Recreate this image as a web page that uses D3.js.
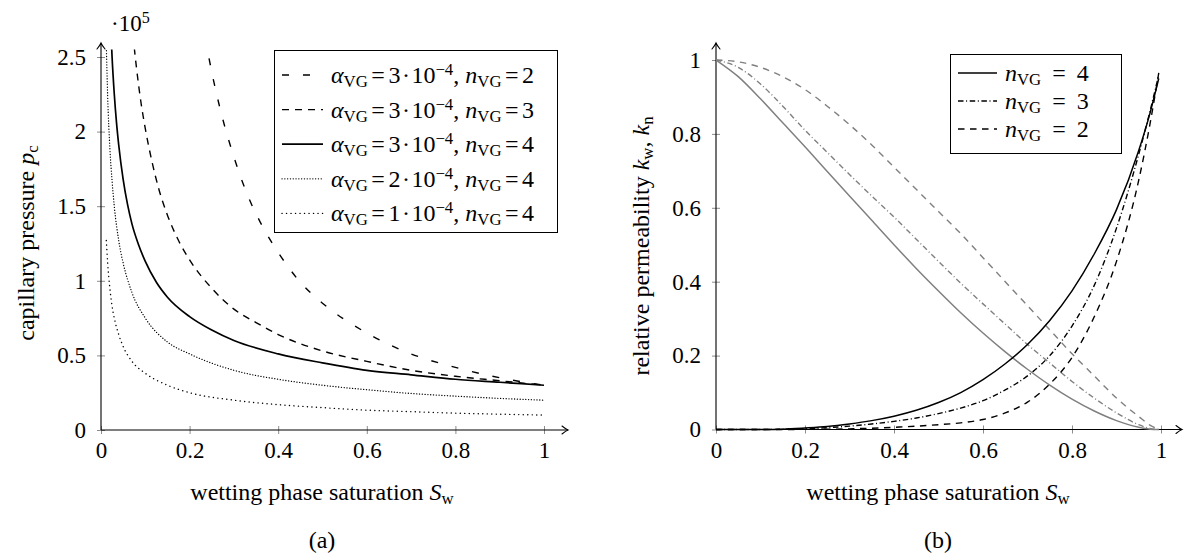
<!DOCTYPE html>
<html><head><meta charset="utf-8">
<script src="https://cdn.jsdelivr.net/npm/d3@7"></script>
<style>body{margin:0;background:#fff}svg{display:block} text{font-family:"Liberation Serif","DejaVu Serif",serif;}</style>
</head><body>
<svg id="c" width="1186" height="557"></svg>
<script>
// ---------- data ----------
const xTicks = [0, 0.2, 0.4, 0.6, 0.8, 1];
const xTickLabels = ["0", "0.2", "0.4", "0.6", "0.8", "1"];
const pcTicks = [0, 0.5, 1, 1.5, 2, 2.5];
const pcTickLabels = ["0", "0.5", "1", "1.5", "2", "2.5"];
const krTicks = [0, 0.2, 0.4, 0.6, 0.8, 1];
const krTickLabels = ["0", "0.2", "0.4", "0.6", "0.8", "1"];

// left panel: capillary pressure pc [1e5] vs Sw
const swA3n2 = [0.235, 0.25, 0.27, 0.3, 0.33, 0.36, 0.4, 0.45, 0.5, 0.6, 0.7, 0.8, 0.9, 1.0];
const pcA3n2 = [2.63, 2.40, 2.14, 1.83, 1.58, 1.39, 1.19, 0.99, 0.85, 0.65, 0.51, 0.42, 0.35, 0.30];
const swA3n3 = [0.072, 0.08, 0.09, 0.1, 0.115, 0.13, 0.15, 0.175, 0.2, 0.25, 0.3, 0.35, 0.4, 0.5, 0.6, 0.7, 0.8, 0.9, 1.0];
const pcA3n3 = [2.65, 2.43, 2.20, 2.02, 1.80, 1.62, 1.44, 1.27, 1.14, 0.95, 0.81, 0.72, 0.64, 0.53, 0.46, 0.40, 0.36, 0.33, 0.30];
const swA3n4 = [0.023, 0.025, 0.03, 0.035, 0.04, 0.05, 0.06, 0.07, 0.085, 0.1, 0.125, 0.15, 0.2, 0.25, 0.3, 0.4, 0.5, 0.6, 0.7, 0.8, 0.9, 1.0];
const pcA3n4 = [2.63, 2.50, 2.25, 2.06, 1.91, 1.68, 1.51, 1.38, 1.24, 1.13, 0.99, 0.89, 0.76, 0.67, 0.60, 0.51, 0.45, 0.40, 0.37, 0.34, 0.32, 0.30];
const swLow = [0.012, 0.015, 0.02, 0.025, 0.03, 0.04, 0.05, 0.07, 0.1, 0.15, 0.2, 0.3, 0.4, 0.5, 0.6, 0.7, 0.8, 0.9, 1.0];
const pcA2n4 = [2.58, 2.24, 1.89, 1.67, 1.50, 1.27, 1.12, 0.92, 0.75, 0.59, 0.51, 0.40, 0.34, 0.30, 0.27, 0.245, 0.227, 0.212, 0.20];
const pcA1n4 = [1.27, 1.12, 0.95, 0.83, 0.75, 0.64, 0.56, 0.46, 0.38, 0.30, 0.25, 0.20, 0.17, 0.15, 0.133, 0.123, 0.113, 0.106, 0.10];

// right panel: relative permeability vs Sw
const swK = [0, 0.05, 0.1, 0.15, 0.2, 0.25, 0.3, 0.35, 0.4, 0.45, 0.5, 0.55, 0.6, 0.65, 0.7, 0.75, 0.8, 0.85, 0.9, 0.95, 0.975, 0.995];
const kwN4 = [0, 0, 0.0002, 0.001, 0.004, 0.008, 0.015, 0.024, 0.036, 0.052, 0.073, 0.10, 0.135, 0.178, 0.23, 0.295, 0.375, 0.475, 0.595, 0.755, 0.855, 0.95];
const kwN3 = [0, 0, 0.0001, 0.0007, 0.002, 0.005, 0.009, 0.015, 0.022, 0.031, 0.043, 0.058, 0.078, 0.107, 0.145, 0.20, 0.28, 0.39, 0.545, 0.745, 0.86, 0.96];
const kwN2 = [0, 0, 0, 0.0001, 0.0003, 0.0008, 0.0018, 0.0035, 0.006, 0.009, 0.013, 0.018, 0.027, 0.045, 0.074, 0.123, 0.195, 0.305, 0.455, 0.675, 0.825, 0.965];
const knN4 = [1, 0.955, 0.895, 0.83, 0.765, 0.698, 0.632, 0.566, 0.50, 0.436, 0.375, 0.316, 0.261, 0.21, 0.163, 0.12, 0.082, 0.05, 0.024, 0.006, 0.001, 0.0];
const knN3 = [1, 0.98, 0.935, 0.875, 0.81, 0.75, 0.69, 0.632, 0.575, 0.515, 0.455, 0.396, 0.34, 0.285, 0.23, 0.18, 0.13, 0.085, 0.045, 0.013, 0.003, 0.0];
const knN2 = [1, 0.995, 0.98, 0.955, 0.92, 0.875, 0.825, 0.77, 0.71, 0.65, 0.59, 0.53, 0.465, 0.40, 0.335, 0.27, 0.205, 0.145, 0.085, 0.035, 0.012, 0.0];

// ---------- drawing ----------
const FONT = '"Liberation Serif", "DejaVu Serif", serif';
const svg = d3.select("#c");
const GRAY = "#808080";
const TICKFS = 23;

const xL = d3.scaleLinear([0, 1], [101, 544]);
const yL = d3.scaleLinear([0, 2.5], [430, 57]);
const xR = d3.scaleLinear([0, 1], [716, 1161]);
const yR = d3.scaleLinear([0, 1], [429.5, 60]);

const defs = svg.append("defs");
defs.append("clipPath").attr("id", "clipL").append("rect")
  .attr("x", xL(0)).attr("y", yL(2.55)).attr("width", xL(1.02) - xL(0)).attr("height", yL(0) - yL(2.55) + 2);
defs.append("clipPath").attr("id", "clipR").append("rect")
  .attr("x", xR(0)).attr("y", yR(1.02)).attr("width", xR(1.02) - xR(0)).attr("height", yR(0) - yR(1.02) + 2);

function arrow(g, x, y, dir) {
  const p = "M-6,-4 Q-2,-0.8 0,0 Q-2,0.8 -6,4";
  g.append("path").attr("d", p).attr("fill", "none").attr("stroke", "#000").attr("stroke-width", 1.1)
    .attr("stroke-linecap", "round")
    .attr("transform", `translate(${x},${y}) rotate(${dir})`);
}

function drawAxes(x, y, xt, xtl, yt, ytl, xEnd, yEnd) {
  const g = svg.append("g");
  const ax = d3.axisBottom(x).tickValues(xt).tickFormat((d, i) => xtl[i]).tickSize(4).tickPadding(6);
  const gx = g.append("g").attr("transform", `translate(0,${y(0)})`).call(ax);
  gx.attr("font-family", FONT);
  gx.select(".domain").remove();
  gx.selectAll(".tick line").attr("y1", -4).attr("y2", 4).attr("stroke", GRAY).attr("stroke-width", 0.9);
  gx.selectAll(".tick text").attr("font-family", FONT).attr("font-size", TICKFS).attr("fill", "#000").attr("dy", "0.8em");
  const ay = d3.axisLeft(y).tickValues(yt).tickFormat((d, i) => ytl[i]).tickSize(4).tickPadding(11);
  const gy = g.append("g").attr("transform", `translate(${x(0)},0)`).call(ay);
  gy.attr("font-family", FONT);
  gy.select(".domain").remove();
  gy.selectAll(".tick line").attr("x1", -4).attr("x2", 4).attr("stroke", GRAY).attr("stroke-width", 0.9);
  gy.selectAll(".tick text").attr("font-family", FONT).attr("font-size", TICKFS).attr("fill", "#000");
  g.append("line").attr("x1", x(0)).attr("x2", xEnd).attr("y1", y(0)).attr("y2", y(0)).attr("stroke", "#000").attr("stroke-width", 1.1);
  g.append("line").attr("x1", x(0)).attr("x2", x(0)).attr("y1", y(0)).attr("y2", yEnd).attr("stroke", "#000").attr("stroke-width", 1.1);
  arrow(g, xEnd, y(0), 0);
  arrow(g, x(0), yEnd, -90);
}

drawAxes(xL, yL, xTicks, xTickLabels, pcTicks, pcTickLabels, 568, 43);
drawAxes(xR, yR, xTicks, xTickLabels, krTicks, krTickLabels, 1182, 43);

function curve(x, y, xs, ys, clip, style) {
  const line = d3.line().x((d) => x(d[0])).y((d) => y(d[1])).curve(d3.curveMonotoneX);
  svg.append("path").datum(xs.map((v, i) => [v, ys[i]]))
    .attr("clip-path", `url(#${clip})`)
    .attr("d", line).attr("fill", "none")
    .attr("stroke", style.color || "#000").attr("stroke-width", style.w || 1.4)
    .attr("stroke-dasharray", style.dash || null)
    .attr("stroke-linecap", style.cap || "butt");
}

const S = {
  loose: { dash: "7 14" },
  dashed: { dash: "7 6" },
  solid: { w: 1.7 },
  dense: { dash: "0.1 2.7", cap: "round", w: 1.3 },
  dotted: { dash: "0.1 4.4", cap: "round", w: 1.4 },
};
curve(xL, yL, swA3n2, pcA3n2, "clipL", S.loose);
curve(xL, yL, swA3n3, pcA3n3, "clipL", S.dashed);
curve(xL, yL, swA3n4, pcA3n4, "clipL", S.solid);
curve(xL, yL, swLow, pcA2n4, "clipL", S.dense);
curve(xL, yL, swLow, pcA1n4, "clipL", S.dotted);

const R = {
  solid: { w: 1.5 },
  dashdot: { dash: "5.5 2.6 1 2.6", w: 1.4 },
  dashed: { dash: "6.5 5.5", w: 1.4 },
};
curve(xR, yR, swK, knN4, "clipR", Object.assign({}, R.solid, { color: GRAY }));
curve(xR, yR, swK, knN3, "clipR", Object.assign({}, R.dashdot, { color: GRAY }));
curve(xR, yR, swK, knN2, "clipR", Object.assign({}, R.dashed, { color: GRAY }));
curve(xR, yR, swK, kwN4, "clipR", R.solid);
curve(xR, yR, swK, kwN3, "clipR", R.dashdot);
curve(xR, yR, swK, kwN2, "clipR", R.dashed);

// ---------- texts ----------
function mtext(g, x, y, parts, opts = {}) {
  const t = g.append("text").attr("x", x).attr("y", y).attr("font-family", FONT)
    .attr("font-size", opts.size || 23).attr("text-anchor", opts.anchor || "start");
  if (opts.transform) t.attr("transform", opts.transform);
  parts.forEach((p) => {
    const s = t.append("tspan").text(p.t);
    if (p.i) s.attr("font-style", "italic");
    if (p.sub) s.attr("font-size", "70%").attr("baseline-shift", "-22%");
    if (p.sup) s.attr("font-size", "70%").attr("baseline-shift", "50%");
    if (p.dx) s.attr("dx", p.dx);
  });
  return t;
}

mtext(svg, 111, 31, [{ t: "·10" }, { t: "5", sup: true }], { size: 23 });

mtext(svg, 322, 500, [{ t: "wetting phase saturation " }, { t: "S", i: true }, { t: "w", sub: true }], { anchor: "middle", size: 24 });
mtext(svg, 938, 500, [{ t: "wetting phase saturation " }, { t: "S", i: true }, { t: "w", sub: true }], { anchor: "middle", size: 24 });
mtext(svg, 0, 0, [{ t: "capillary pressure " }, { t: "p", i: true }, { t: "c", sub: true }],
  { anchor: "middle", size: 24, transform: "translate(34,243) rotate(-90)" });
mtext(svg, 0, 0, [{ t: "relative permeability " }, { t: "k", i: true }, { t: "w", sub: true }, { t: ", " }, { t: "k", i: true }, { t: "n", sub: true }],
  { anchor: "middle", size: 24, transform: "translate(649,246) rotate(-90)" });
mtext(svg, 322, 548, [{ t: "(a)" }], { anchor: "middle", size: 24 });
mtext(svg, 938, 548, [{ t: "(b)" }], { anchor: "middle", size: 24 });

// ---------- legends ----------
const legL = [
  { a: "3", n: "2", s: S.loose },
  { a: "3", n: "3", s: S.dashed },
  { a: "3", n: "4", s: S.solid },
  { a: "2", n: "4", s: S.dense },
  { a: "1", n: "4", s: S.dotted },
];
const gl = svg.append("g");
gl.append("rect").attr("x", 274.5).attr("y", 50.5).attr("width", 283).attr("height", 182)
  .attr("fill", "#fff").attr("stroke", "#000").attr("stroke-width", 1);
legL.forEach((e, i) => {
  const yy = 75 + i * 34.6;
  gl.append("line").attr("x1", 282).attr("x2", 323).attr("y1", yy).attr("y2", yy)
    .attr("stroke", "#000").attr("stroke-width", e.s.w || 1.4)
    .attr("stroke-dasharray", e.s.dash || null).attr("stroke-linecap", e.s.cap || "butt");
  mtext(gl, 331, yy + 8, [
    { t: "α", i: true }, { t: "VG", sub: true }, { t: "=", dx: 3.5 }, { t: e.a, dx: 3.5 }, { t: "·", dx: 1.5 }, { t: "10", dx: 1.5 }, { t: "−4", sup: true },
    { t: ", " }, { t: "n", i: true }, { t: "VG", sub: true }, { t: "=", dx: 3.5 }, { t: e.n, dx: 3.5 },
  ], { size: 24 });
});

const legR = [
  { n: "4", s: R.solid },
  { n: "3", s: R.dashdot },
  { n: "2", s: R.dashed },
];
const gr = svg.append("g");
gr.append("rect").attr("x", 950.5).attr("y", 54.5).attr("width", 171).attr("height", 99)
  .attr("fill", "#fff").attr("stroke", "#000").attr("stroke-width", 1);
legR.forEach((e, i) => {
  const yy = 73 + i * 28;
  gr.append("line").attr("x1", 958).attr("x2", 997).attr("y1", yy).attr("y2", yy)
    .attr("stroke", "#000").attr("stroke-width", e.s.w || 1.4)
    .attr("stroke-dasharray", e.s.dash || null);
  mtext(gr, 1005, yy + 8, [{ t: "n", i: true }, { t: "VG", sub: true }, { t: "=", dx: 11 }, { t: e.n, dx: 11 }], { size: 24 });
});
</script>
</body></html>
